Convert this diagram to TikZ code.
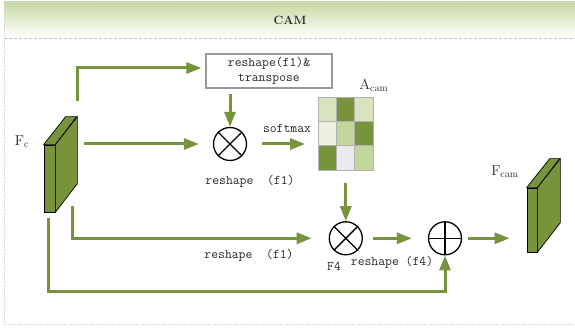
\documentclass[tikz,border=0pt]{standalone}
\usetikzlibrary{arrows.meta, positioning}

\definecolor{camgreen}{HTML}{77933C}
\definecolor{headgreen}{HTML}{C7D9A6}
\definecolor{celllight}{HTML}{D7E4BD}
\definecolor{cellpale}{HTML}{EBF1DE}
\definecolor{cellmid}{HTML}{C3D69B}
\definecolor{cellgray}{HTML}{EAEAEF}

\begin{document}
\begin{tikzpicture}[x=1pt, y=-1pt,
    every node/.style={font={\ttfamily\fontsize{13.3}{15}\selectfont}, text=black!85},
    >={Triangle[length=15pt,width=11pt]},
    flow/.style={->, camgreen, line width=3pt},
    slab/.style={draw, fill=camgreen, line width=0.7pt, inner sep=0pt},
    opnode/.style={draw, circle, line width=1.3pt, minimum size=33pt, inner sep=0pt},
    lbl/.style={font={\fontsize{14}{16}\selectfont}}]
    \useasboundingbox (0,0) rectangle (575,328);

    % frame and header
    \shade[top color=headgreen, bottom color=white] (4,2) rectangle (575,38);
    \draw[gray!35, densely dotted, line width=0.8pt] (4,2) rectangle (575,324);
    \draw[gray!50, densely dashed, line width=0.6pt] (4,38) -- (575,38);
    \node[font={\rmfamily\bfseries\fontsize{12}{14}\selectfont}] (title) at (290,20) {CAM};

    % input feature F_c
    \node[slab, minimum width=11pt, minimum height=67pt] (fc) at (49.5,178.5) {};
    \draw[slab] (fc.north west) -- ++(22,-28) -- ++(11,0) -- (fc.north east) -- cycle;
    \draw[slab] (fc.north east) -- ++(22,-28) -- ++(0,67) -- (fc.south east) -- cycle;
    \node[lbl] (fclabel) at (22,142) {$\mathrm{F}_{\mathrm{c}}$};

    % output feature F_cam
    \node[slab, minimum width=10pt, minimum height=64pt] (fcam) at (532,220) {};
    \draw[slab] (fcam.north west) -- ++(23,-29) -- ++(10,0) -- (fcam.north east) -- cycle;
    \draw[slab] (fcam.north east) -- ++(23,-29) -- ++(0,64) -- (fcam.south east) -- cycle;
    \node[lbl] (fcamlabel) at (505,172) {$\mathrm{F}_{\mathrm{cam}}$};

    % reshape & transpose box
    \node[draw=gray!80, line width=1.2pt, minimum width=126pt, minimum height=34pt, align=center, inner sep=1pt] (rsbox) at (269,71) {reshape(f1)\&\\transpose};

    % operators
    \node[opnode] (ot1) at (230,144) {};
    \draw[line width=1.3pt] (ot1.north west) -- (ot1.south east) (ot1.north east) -- (ot1.south west);
    \node[opnode] (ot2) at (345.8,238.3) {};
    \draw[line width=1.3pt] (ot2.north west) -- (ot2.south east) (ot2.north east) -- (ot2.south west);
    \node[opnode] (op) at (445,238.3) {};
    \draw[line width=1.3pt] (op.north) -- (op.south) (op.east) -- (op.west);

    % attention map A_cam
    \node[minimum width=55pt, minimum height=73pt, inner sep=0pt] (acam) at (345.8,133.6) {};
    \foreach \col/\row/\cellc in {0/0/celllight, 1/0/camgreen, 2/0/celllight,
                                  0/1/cellpale, 1/1/cellmid, 2/1/camgreen,
                                  0/2/camgreen, 1/2/cellgray, 2/2/cellmid}
        \draw[gray!60, line width=0.6pt, fill=\cellc] ([shift={(\col*18.33,\row*24.33)}]acam.north west) rectangle ++(18.33,24.33);
    \node[lbl] (acamlabel) at (374,86) {$\mathrm{A}_{\mathrm{cam}}$};

    % labels
    \node (softmax) at (287,128) {softmax};
    \node (rs1) at (250,181) {reshape~~(f1)};
    \node (rs2) at (249,255) {reshape~~(f1)};
    \node (f4) at (334,266) {F4};
    \node (rs4) at (392,262) {reshape (f4)};

    % connectors
    \coordinate (fctop) at (77,101);
    \coordinate (fcmid) at (84,144);
    \coordinate (fclow) at (72,206);
    \coordinate (fcbot) at (48,218);
    \coordinate (loopc) at (48,292);
    \coordinate (boxout) at (230,94);
    \draw[flow] (fctop) |- ([xshift=-4pt, yshift=3pt]rsbox.west);
    \draw[flow] (boxout) -- (ot1.north);
    \draw[flow] (fcmid) -- ([xshift=-14pt]ot1.west);
    \draw[flow] ([xshift=15pt]ot1.east) -- ([xshift=-13pt]acam.west |- ot1);
    \draw[flow] ([yshift=-13pt]acam.south) -- (ot2.north);
    \draw[flow] (fclow) |- ([xshift=-17pt]ot2.west);
    \draw[flow] ([xshift=10pt]ot2.east) -- ([xshift=-16pt]op.west);
    \draw[flow] ([xshift=6pt]op.east) -- ([xshift=-17pt]fcam.west |- op);
    \draw[flow] (fcbot) -- (loopc) -| (op.south);
\end{tikzpicture}
\end{document}
